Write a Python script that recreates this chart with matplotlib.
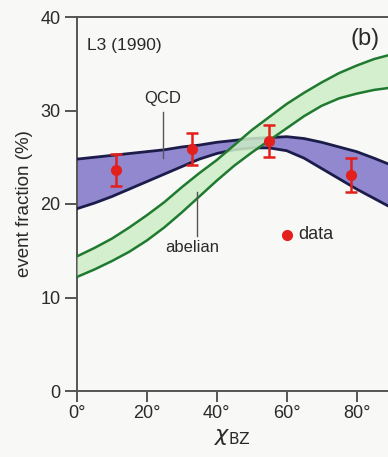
import matplotlib
matplotlib.use("Agg")
import matplotlib.pyplot as plt

plt.rcParams['font.family'] = ['Liberation Sans', 'DejaVu Sans']
plt.rcParams['mathtext.fontset'] = 'dejavusans'

# ---- data ----
angle = [0, 5, 10, 15, 20, 25, 30, 35, 40, 45, 50, 55, 60, 65, 70, 75, 80, 85, 89]
qcd_upper = [24.8, 25.0, 25.2, 25.4, 25.6, 25.8, 26.1, 26.3, 26.6, 26.8, 27.0, 27.1, 27.2, 27.0, 26.6, 26.1, 25.6, 24.9, 24.3]
qcd_lower = [19.5, 20.1, 20.8, 21.6, 22.4, 23.2, 24.0, 24.8, 25.4, 25.8, 26.0, 26.0, 25.7, 24.9, 23.8, 22.7, 21.6, 20.6, 19.8]
abel_upper = [14.4, 15.3, 16.3, 17.5, 18.8, 20.2, 21.8, 23.3, 24.7, 26.3, 27.9, 29.3, 30.7, 31.9, 33.0, 34.0, 34.8, 35.5, 35.9]
abel_lower = [12.2, 13.0, 13.9, 14.9, 16.1, 17.5, 19.1, 20.8, 22.5, 24.1, 25.5, 26.8, 28.1, 29.4, 30.5, 31.3, 31.8, 32.2, 32.4]

data_x = [11.25, 33.0, 55.0, 78.5]
data_y = [23.6, 25.9, 26.7, 23.1]
data_err = [1.7, 1.7, 1.7, 1.8]

xticks = [0, 20, 40, 60, 80]
xticklabels = ['0°', '20°', '40°', '60°', '80°']
yticks = [0, 10, 20, 30, 40]

# ---- styling ----
bg = '#f8f8f6'
purple = '#9188cf'
navy = '#1c1c4a'
green_fill = '#cdeec6'
green_line = '#1f7a30'
red = '#e3201b'
axis_col = '#555555'
text_col = '#2a2a2a'

fig = plt.figure(figsize=(3.88, 4.57), dpi=100, facecolor=bg)
ax = fig.add_axes([77/388, 1 - 391/457, 1 - 77/388, (391 - 17)/457])
ax.set_facecolor(bg)

ax.fill_between(angle, qcd_lower, qcd_upper, color=purple, lw=0, zorder=2)
ax.plot(angle, qcd_upper, color=navy, lw=2.0, zorder=3)
ax.plot(angle, qcd_lower, color=navy, lw=2.0, zorder=3)

ax.fill_between(angle, abel_lower, abel_upper, color=green_fill, alpha=0.85, lw=0, zorder=4)
ax.plot(angle, abel_upper, color=green_line, lw=1.8, zorder=5)
ax.plot(angle, abel_lower, color=green_line, lw=1.8, zorder=5)

ax.errorbar(data_x, data_y, yerr=data_err, fmt='o', color=red, ms=7,
            elinewidth=1.8, capsize=4, capthick=1.8, zorder=6)

ax.set_xlim(0, 89)
ax.set_ylim(0, 40)
ax.set_xticks(xticks)
ax.set_xticklabels(xticklabels)
ax.set_yticks(yticks)

for s in ['left', 'top', 'bottom']:
    ax.spines[s].set_color(axis_col)
    ax.spines[s].set_linewidth(1.4)
ax.spines['right'].set_visible(False)
ax.tick_params(axis='both', direction='out', color=axis_col, width=1.4,
               labelsize=13, labelcolor=text_col)
ax.tick_params(axis='y', length=9, pad=3)
ax.tick_params(axis='x', length=8, pad=2)

ax.set_ylabel('event fraction (%)', fontsize=13.5, color=text_col, labelpad=5)
ax.set_xlabel(r'$\chi_{\mathrm{BZ}}$', fontsize=16, color=text_col, labelpad=3)

# annotations
ax.text(3.0, 37.0, 'L3 (1990)', fontsize=12.5, color=text_col, ha='left', va='center')
ax.text(86.5, 37.6, '(b)', fontsize=17, color=text_col, ha='right', va='center')

ax.text(24.5, 31.3, 'QCD', fontsize=12, color=text_col, ha='center', va='center')
ax.plot([24.5, 24.5], [29.8, 24.9], color=axis_col, lw=1.0, zorder=7)

ax.text(33.0, 15.3, 'abelian', fontsize=12, color=text_col, ha='center', va='center')
ax.plot([34.2, 34.2], [21.3, 16.6], color=axis_col, lw=1.0, zorder=7)

ax.plot([60.0], [16.7], 'o', color=red, ms=7, zorder=7)
ax.text(63.3, 16.7, 'data', fontsize=13, color=text_col, ha='left', va='center')

fig.savefig('out.png', dpi=100, facecolor=bg)
